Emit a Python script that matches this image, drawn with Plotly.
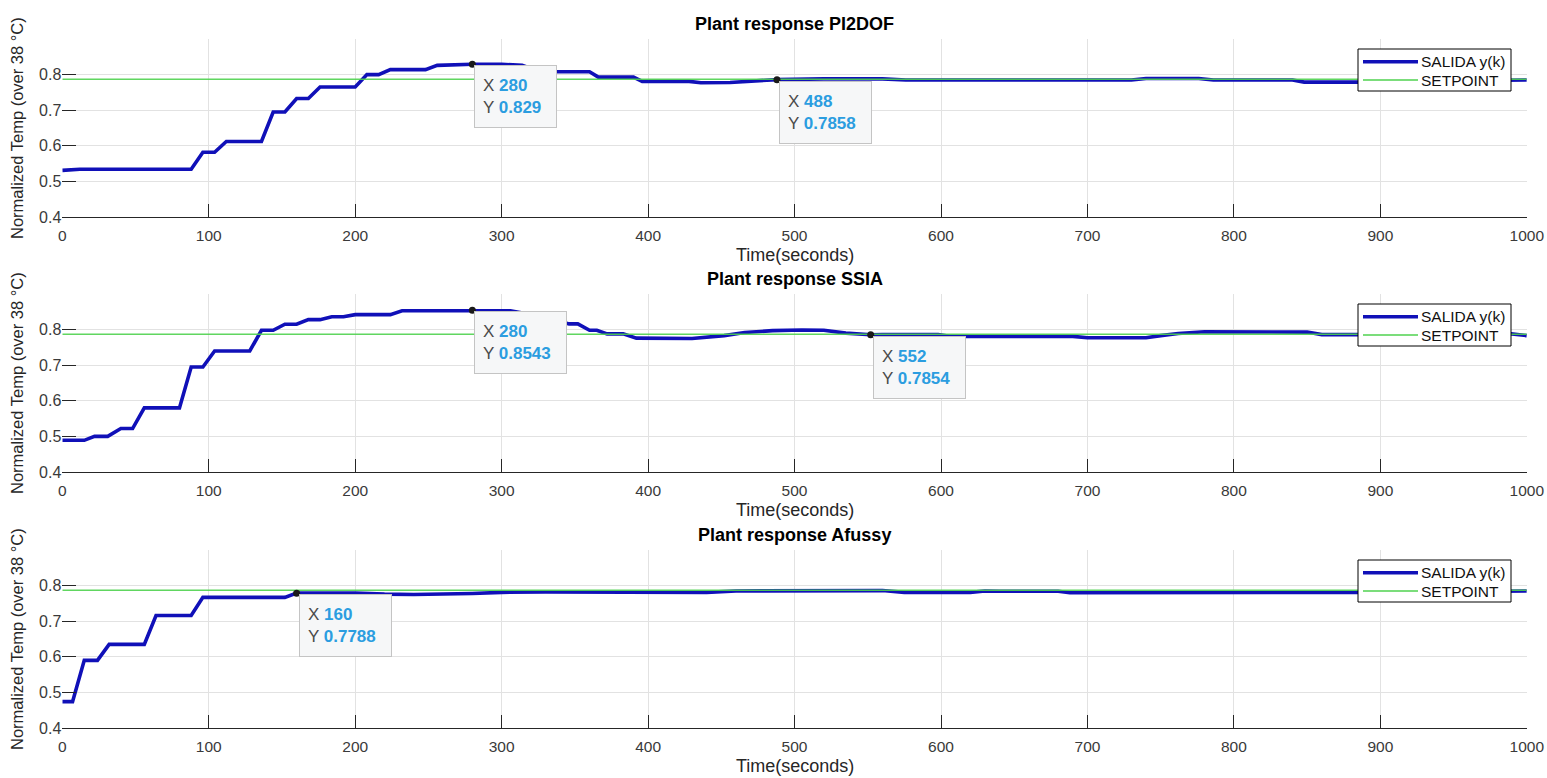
import plotly.graph_objects as go

W, H = 1547, 778

# Plant output y(k) for each controller: time breakpoints (s) and normalized temperature
pi2dof_t = [0, 12, 88, 96, 104, 112, 136, 144, 152, 160, 168, 176, 200, 208, 216, 224, 248, 256,
            280, 300, 314, 326, 360, 366, 390, 396, 428, 436, 456, 472, 488, 520, 560, 576, 620,
            700, 730, 740, 776, 786, 840, 848, 890, 985, 1000]
pi2dof_y = [0.531, 0.534, 0.534, 0.582, 0.582, 0.612, 0.612, 0.695, 0.695, 0.733, 0.733, 0.765,
            0.765, 0.800, 0.800, 0.814, 0.814, 0.826, 0.829, 0.829, 0.826, 0.808, 0.808, 0.793,
            0.793, 0.781, 0.781, 0.777, 0.778, 0.783, 0.7858, 0.788, 0.788, 0.785, 0.785, 0.784,
            0.785, 0.789, 0.789, 0.785, 0.785, 0.779, 0.779, 0.784, 0.785]

ssia_t = [0, 15, 22, 31, 40, 48, 56, 80, 88, 96, 104, 128, 136, 144, 152, 160, 168, 176, 184, 192,
          200, 224, 232, 280, 306, 330, 346, 352, 360, 365, 372, 383, 392, 430, 442, 452, 466, 485,
          505, 520, 535, 552, 560, 598, 606, 690, 700, 740, 750, 762, 780, 820, 850, 860, 890, 985,
          1000]
ssia_y = [0.489, 0.489, 0.500, 0.500, 0.522, 0.522, 0.580, 0.580, 0.695, 0.695, 0.740, 0.740,
          0.798, 0.798, 0.815, 0.815, 0.828, 0.828, 0.836, 0.836, 0.842, 0.842, 0.853, 0.8543,
          0.853, 0.835, 0.816, 0.816, 0.798, 0.798, 0.788, 0.788, 0.776, 0.775, 0.779, 0.783,
          0.792, 0.797, 0.799, 0.798, 0.790, 0.7854, 0.786, 0.786, 0.781, 0.781, 0.777, 0.777,
          0.783, 0.789, 0.794, 0.794, 0.793, 0.786, 0.786, 0.790, 0.783]

afussy_t = [0, 7, 15, 24, 32, 56, 64, 88, 96, 152, 160, 200, 220, 240, 280, 300, 330, 440, 460,
            520, 545, 560, 575, 620, 630, 640, 680, 688, 900, 985, 1000]
afussy_y = [0.474, 0.474, 0.590, 0.590, 0.635, 0.635, 0.716, 0.716, 0.767, 0.767, 0.7788, 0.779,
            0.776, 0.775, 0.778, 0.781, 0.782, 0.781, 0.785, 0.787, 0.788, 0.786, 0.781, 0.781,
            0.785, 0.784, 0.784, 0.780, 0.781, 0.785, 0.785]

setpoint = 0.787
setpoint_t = [0, 1000]

titles = ["Plant response PI2DOF", "Plant response SSIA", "Plant response Afussy"]
legend_names = ["SALIDA y(k)", "SETPOINT"]

# data tips (time, value) per panel
tips_t = [[280, 488], [280, 552], [160]]
tips_y = [[0.829, 0.7858], [0.8543, 0.7854], [0.7788]]

x_ticks = list(range(0, 1001, 100))
y_ticks = [0.4, 0.5, 0.6, 0.7, 0.8]
y_range = [0.4, 0.9]

series_t = [pi2dof_t, ssia_t, afussy_t]
series_y = [pi2dof_y, ssia_y, afussy_y]

# panel geometry in pixels
plot_left, plot_right = 62.3, 1526.8
panel_top = [39, 294, 550]
panel_bot = [217, 472, 728]

FONT = "Liberation Sans, Arial, Helvetica, sans-serif"
AX = "#262626"
GRID = "#e2e2e2"
BLUE = "#1010b8"
GREEN = "#4fd24f"
TIP_VAL = "#2b9de0"
BLUE_W, GREEN_W = 3.6, 1.3


def px(x):
    return x / W


def py(y):
    return 1 - y / H


fig = go.Figure()
annotations = []
shapes = []
layout_axes = {}

xd = [px(plot_left), px(plot_right)]
for i in range(3):
    n = "" if i == 0 else str(i + 1)
    xa, ya = "x" + n, "y" + n
    yd = [py(panel_bot[i]), py(panel_top[i])]

    fig.add_trace(go.Scatter(
        x=series_t[i], y=series_y[i], mode="lines", name=legend_names[0],
        line=dict(color=BLUE, width=BLUE_W), xaxis=xa, yaxis=ya, showlegend=False))
    fig.add_trace(go.Scatter(
        x=setpoint_t, y=[setpoint] * len(setpoint_t), mode="lines", name=legend_names[1],
        line=dict(color=GREEN, width=GREEN_W), opacity=0.9, xaxis=xa, yaxis=ya,
        showlegend=False))
    fig.add_trace(go.Scatter(
        x=tips_t[i], y=tips_y[i], mode="markers", showlegend=False,
        marker=dict(color="#1a1a1a", size=7), xaxis=xa, yaxis=ya, hoverinfo="skip"))

    layout_axes["xaxis" + n] = dict(
        domain=xd, anchor=ya, range=[0, 1000], tickvals=x_ticks,
        ticktext=[str(v) for v in x_ticks], ticks="inside", ticklen=13, tickwidth=1,
        tickcolor=AX, showline=True, linecolor=AX, linewidth=1, mirror=False,
        showgrid=True, gridcolor=GRID, gridwidth=1, zeroline=False,
        tickfont=dict(family=FONT, size=15.5, color="#3a3a3a"), automargin=False,
        ticklabelstandoff=4)
    layout_axes["yaxis" + n] = dict(
        domain=yd, anchor=xa, range=y_range, tickvals=y_ticks,
        ticktext=[f"{v:.1f}" for v in y_ticks], ticks="inside", ticklen=14, tickwidth=1,
        tickcolor=AX, showline=False, showgrid=True, gridcolor=GRID, gridwidth=1,
        zeroline=False, tickfont=dict(family=FONT, size=16, color="#3a3a3a"),
        automargin=False)

    # legend box in the upper right of each panel
    top = panel_top[i] + 10
    shapes.append(dict(type="rect", xref="paper", yref="paper",
                       x0=px(1358), x1=px(1511), y0=py(top + 42), y1=py(top),
                       line=dict(color="black", width=1), fillcolor="white", layer="above"))
    for k, (name, col, lw) in enumerate(zip(legend_names, [BLUE, GREEN], [BLUE_W, GREEN_W])):
        ry = top + 12.7 + 18.3 * k
        shapes.append(dict(type="line", xref="paper", yref="paper",
                           x0=px(1363), x1=px(1418), y0=py(ry), y1=py(ry),
                           line=dict(color=col, width=lw), layer="above"))
        annotations.append(dict(
            xref="paper", yref="paper", x=px(1419), y=py(ry), xanchor="left",
            yanchor="middle", showarrow=False, text=name,
            font=dict(family=FONT, size=15.5, color="#111")))

    # panel title
    annotations.append(dict(
        xref="paper", yref="paper", x=(xd[0] + xd[1]) / 2, y=py(panel_top[i] - 3),
        xanchor="center", yanchor="bottom", showarrow=False,
        text="<b>" + titles[i] + "</b>", font=dict(family=FONT, size=18, color="#000")))
    # x axis title
    annotations.append(dict(
        xref="paper", yref="paper", x=(xd[0] + xd[1]) / 2, y=py(panel_bot[i] + 38),
        xanchor="center", yanchor="middle", showarrow=False,
        text="Time(seconds)", font=dict(family=FONT, size=18, color="#262626")))
    # y axis title
    annotations.append(dict(
        xref="paper", yref="paper", x=px(17), y=py((panel_top[i] + panel_bot[i]) / 2),
        xanchor="center", yanchor="middle", showarrow=False, textangle=-90,
        text="Normalized Temp (over 38 °C)", font=dict(family=FONT, size=16.5, color="#262626")))

    # data tips
    for tx, ty in zip(tips_t[i], tips_y[i]):
        label = f"{ty:g}"
        box_w = 35 + 9.6 * len(label)
        annotations.append(dict(
            xref=xa, yref=ya, x=tx, y=ty, xanchor="left", yanchor="top",
            xshift=2, yshift=-1, showarrow=False, align="left", valign="middle",
            width=box_w - 18, height=45, borderpad=8, borderwidth=1,
            bordercolor="#c4c4c4", bgcolor="#f6f7f8",
            text=(f"<span style='color:#4a4a4a'>X</span> "
                  f"<span style='color:{TIP_VAL}'><b>{tx}</b></span><br>"
                  f"<span style='color:#4a4a4a'>Y</span> "
                  f"<span style='color:{TIP_VAL}'><b>{label}</b></span>"),
            font=dict(family=FONT, size=17)))

fig.update_layout(
    width=W, height=H, margin=dict(l=0, r=0, t=0, b=0, autoexpand=False),
    paper_bgcolor="white", plot_bgcolor="white", showlegend=False,
    annotations=annotations, shapes=shapes, hovermode=False, **layout_axes)

fig.write_html("out.html")
